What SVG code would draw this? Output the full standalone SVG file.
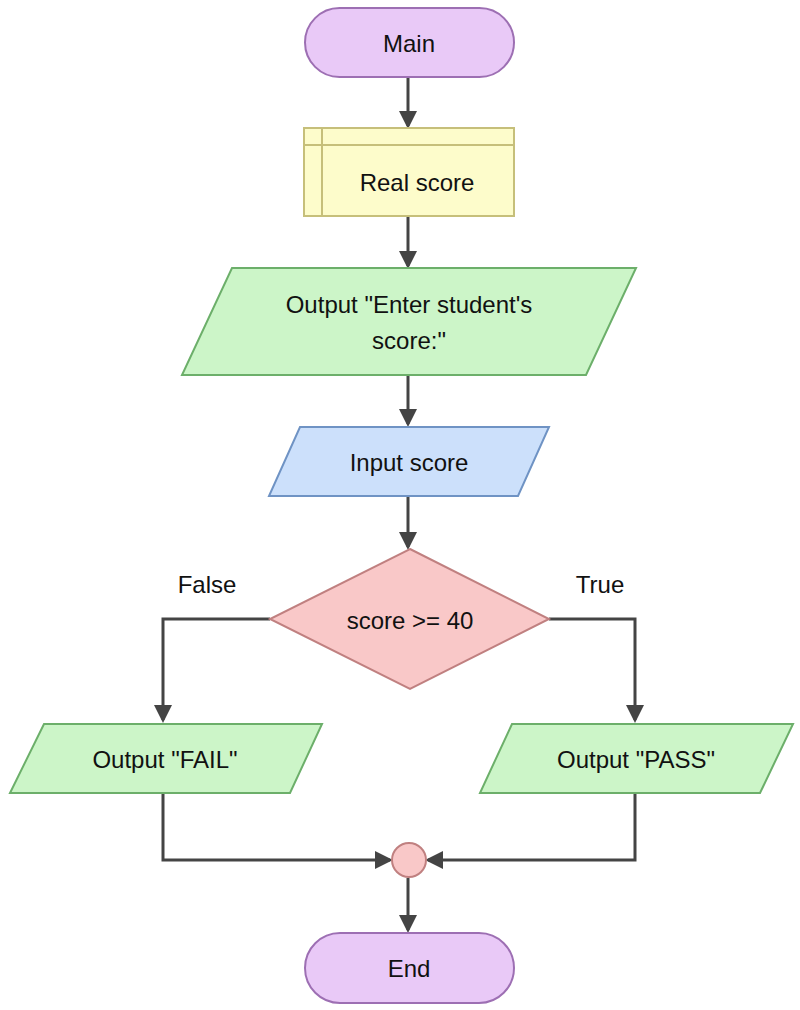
<svg xmlns="http://www.w3.org/2000/svg" width="800" height="1010" viewBox="0 0 800 1010">
<style>
text{font-family:"Liberation Sans",Arial,sans-serif;font-size:24px;fill:#111;text-anchor:middle;dominant-baseline:central}
.term{fill:#e9c9f7;stroke:#9d6fb3;stroke-width:2}
.io{fill:#ccf5c8;stroke:#6caf6a;stroke-width:2}
.in{fill:#cce0fb;stroke:#6f93c4;stroke-width:2}
.dec{fill:#f9c8c8;stroke:#c08080;stroke-width:2}
.decl{fill:#fdfccb;stroke:#c6bf7a;stroke-width:2}
.c{fill:none;stroke:#444;stroke-width:3;marker-end:url(#a)}
</style>
<defs><marker id="a" markerWidth="6" markerHeight="6" refX="5" refY="3" orient="auto" markerUnits="strokeWidth"><path d="M0,0 L6,3 L0,6 z" fill="#444"/></marker></defs>
<g id="connectors">
<path class="c" d="M408,78 V126"/>
<path class="c" d="M408,217 V266"/>
<path class="c" d="M408,376 V424"/>
<path class="c" d="M408,497 V547"/>
<path class="c" d="M270,619 H163 V720"/>
<path class="c" d="M549,619 H635 V720"/>
<path class="c" d="M163,794 V860 H390"/>
<path class="c" d="M635,794 V860 H428"/>
<path class="c" d="M408,878 V930"/>
<text x="207" y="584">False</text>
<text x="600" y="584">True</text>
</g>
<g id="main"><rect class="term" x="305" y="8" width="209" height="69" rx="34.5"/><text x="409" y="43">Main</text></g>
<g id="decl"><rect class="decl" x="304" y="128" width="210" height="88"/><path d="M322,128 V216 M304,145 H514" stroke="#c6bf7a" stroke-width="2" fill="none"/><text x="417" y="182">Real score</text></g>
<g id="out1"><polygon class="io" points="232,268 636,268 586,375 182,375"/><text x="409" y="304">Output "Enter student's</text><text x="409" y="340">score:"</text></g>
<g id="input"><polygon class="in" points="300,427 549,427 518,496 269,496"/><text x="409" y="462">Input score</text></g>
<g id="dec"><polygon class="dec" points="410,549 549,619 410,689 270,619"/><text x="410" y="620">score &gt;= 40</text></g>
<g id="fail"><polygon class="io" points="44,724 322,724 290,793 10,793"/><text x="165" y="759">Output "FAIL"</text></g>
<g id="pass"><polygon class="io" points="512,724 793,724 760,793 480,793"/><text x="636" y="759">Output "PASS"</text></g>
<g id="merge"><circle class="dec" cx="409" cy="860" r="17"/></g>
<g id="end"><rect class="term" x="305" y="933" width="209" height="70" rx="35"/><text x="409" y="968">End</text></g>
</svg>
